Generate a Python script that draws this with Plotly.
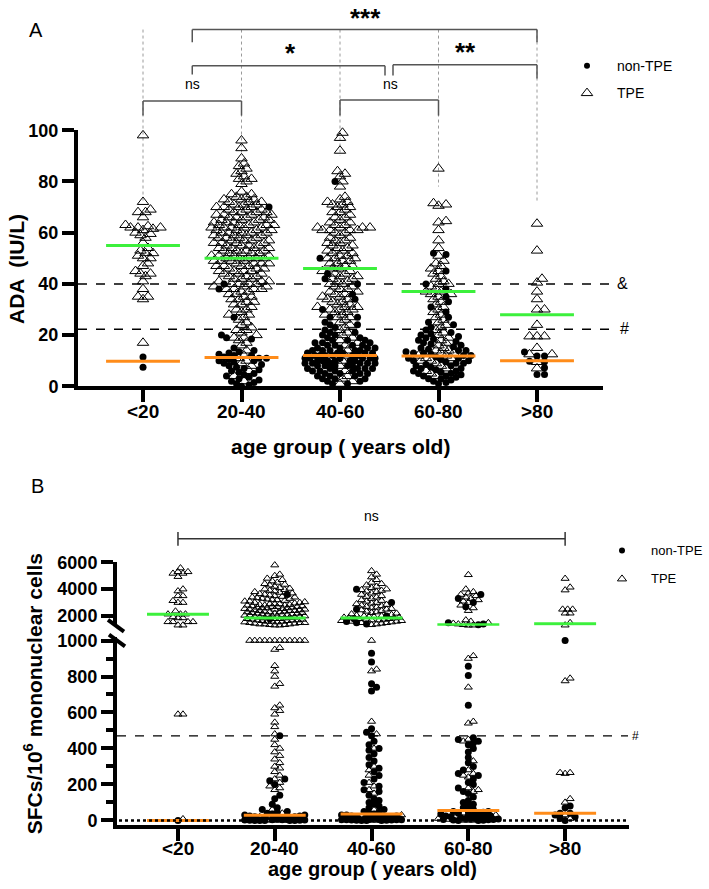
import math
import plotly.graph_objects as go

W, H = 709, 889
FONT = "Liberation Sans, Arial, sans-serif"

categories = ["<20", "20-40", "40-60", "60-80", ">80"]

# ---------------- Panel A : ADA (IU/L) ----------------
ada_tpe_lt20 = [98, 72, 69, 68, 68, 66, 63, 62.5, 62, 62, 62, 61.5, 61, 60, 59.5, 59, 58, 56, 54, 53, 52, 52,
                51, 50, 50, 48, 47, 45, 44, 44, 43, 41, 38, 35, 35, 34, 17]
ada_non_lt20 = [11.5, 7.5]

ada_tpe_20_40 = [96, 93, 89, 87, 86, 85, 84, 83, 82, 81, 81, 80, 79,
                 76, 75, 75, 74, 74, 73, 73, 73, 72, 72, 72, 71, 71, 71, 70, 70, 70, 70,
                 69, 69, 69, 68, 68, 68, 68, 67, 67, 67, 67, 66, 66, 66, 66, 65, 65, 65, 65,
                 64, 64, 64, 64, 63, 63, 63, 63, 63, 62, 62, 62, 62, 62, 61, 61, 61, 61, 60, 60, 60, 60, 60,
                 59, 59, 59, 59, 58, 58, 58, 58, 57, 57, 57, 57, 56, 56, 56, 56, 55, 55, 55, 55,
                 54, 54, 54, 54, 53, 53, 53, 53, 52, 52, 52, 52, 51, 51, 51, 51, 50, 50, 50, 50, 50,
                 49, 49, 49, 49, 48, 48, 48, 48, 47, 47, 47, 47, 46, 46, 46, 45, 45, 45, 45, 44, 44, 44,
                 43, 43, 43, 42, 42, 42, 41, 41, 41, 40, 40, 40, 40,
                 39, 39, 39, 38, 38, 38, 38, 37, 37, 36, 36, 35, 35, 34, 34, 33, 33, 32, 32, 31, 30, 30,
                 29, 28, 28, 27, 26, 25, 24, 23, 22, 22, 21, 20, 19, 19, 18, 17, 16, 14, 12, 11, 10, 9, 8,
                 6, 4, 2]
ada_non_20_40 = [70, 40, 38, 27, 20, 19, 18.5, 15, 14, 13.5, 13, 12.5, 12, 12, 11.5, 11, 11, 10.5, 10, 10,
                 9.5, 9, 8.5, 8, 7.5, 7, 6.5, 6, 5.5, 5, 4.5, 4, 3.5, 3, 2.5, 2, 1.5, 1, 0.5, 0]

ada_tpe_40_60 = [99, 97, 92, 84, 83, 82, 80, 78, 74, 73, 72, 72, 71, 71, 70, 70, 69, 68, 68, 67, 66, 66, 65,
                 64, 64, 63, 63, 62, 62, 62, 62, 61, 61, 61, 61, 60, 60, 59, 58, 58, 57, 57, 56, 56, 55, 55,
                 54, 54, 53, 53, 52, 52, 51, 51, 50, 50, 50, 49, 49, 48, 48, 47, 47, 46, 46, 45, 45, 44, 44,
                 43, 43, 42, 42, 41, 41, 40, 40, 39, 39, 38, 38, 37, 37, 36, 36, 35, 35, 34, 34, 33, 33, 32,
                 32, 31, 31, 31, 30, 30, 30, 29, 29, 28, 28, 27, 27, 26, 25, 24, 23, 22, 21, 20, 19, 18, 17,
                 16, 14, 12, 10, 8, 6, 4, 3, 2, 1]
ada_non_40_60 = [80, 50, 44, 42, 40, 36, 34, 30, 27, 27, 25, 24, 24, 23, 22, 21, 21, 20, 20, 19, 19, 18, 18,
                 18, 17, 17, 17, 16, 16, 16, 16, 15, 15, 15, 15, 14, 14, 14, 14, 14, 13, 13, 13, 13, 13, 12,
                 12, 12, 12, 12, 12, 11, 11, 11, 11, 11, 11, 10, 10, 10, 10, 10, 10, 9, 9, 9, 9, 9, 9, 8, 8,
                 8, 8, 8, 7, 7, 7, 7, 7, 6, 6, 6, 6, 5, 5, 5, 5, 4, 4, 4, 3, 3, 3, 2, 2, 1, 1]

ada_tpe_60_80 = [85, 71.5, 71, 70.5, 64.5, 64, 61, 57, 54, 51, 49, 48, 47, 46, 45, 44, 43, 42, 41, 40, 40, 39,
                 38, 37, 37, 36, 36, 35, 34, 33, 32, 31, 30, 29, 28, 27, 26, 25, 24, 23, 22, 21, 20, 19, 18,
                 17, 16, 15, 14, 14, 13, 13, 12, 12, 11, 11, 10, 10, 9, 8, 7, 6, 5, 4]
ada_non_60_80 = [52, 51.5, 45, 40, 38, 35, 33, 31, 29, 27, 25, 24, 23, 22, 21, 20.5, 20, 19.5, 19, 18.5, 18,
                 17.5, 17, 16.5, 16, 15.5, 15, 14.5, 14, 14, 13.5, 13, 13, 12.5, 12, 12, 11.5, 11, 11, 10.5,
                 10, 10, 9.5, 9, 9, 8.5, 8, 8, 7.5, 7, 7, 6.5, 6, 6, 5.5, 5, 5, 4.5, 4, 4, 3.5, 3, 3, 2.5,
                 2, 1.5, 1]

ada_tpe_gt80 = [63.5, 53, 42, 40.5, 37, 34, 30, 30, 24, 19.5, 19.5, 19.5, 15, 12.5, 12.5, 9.5, 7]
ada_non_gt80 = [13.4, 11.8, 11.8, 9.8, 9.6, 7.3, 4.6, 4.6]

ada_median_tpe = [55, 50, 46, 37, 28]
ada_median_non = [9.8, 11.3, 12, 11.8, 10]
ada_cutoff_amp = 40
ada_cutoff_hash = 22.3
ada_whisker_end = [72, 90, 90, 78, 72]

# ---------------- Panel B : SFCs / 10^6 mononuclear cells ----------------
sfc_tpe_lt20 = [5570, 5290, 5290, 5170, 5170, 4930, 4000, 3860, 3500, 3500, 3140, 3000, 3000, 2360, 2140,
                2140, 2140, 1930, 1860, 1860, 1570, 1570, 1570, 1570, 1320, 1320, 590, 590, 8]
sfc_non_lt20 = [0]

sfc_tpe_20_40 = [5790, 5100, 5000, 4800, 4700, 4600, 4500, 4400, 4350, 4300, 4200, 4100, 4050, 4000, 3950,
                 3900, 3850, 3800, 3750, 3700, 3650, 3600, 3550, 3500, 3450, 3400, 3400, 3350, 3300, 3300,
                 3250, 3200, 3200, 3150, 3100, 3100, 3050, 3000, 3000, 2950, 2900, 2900, 2900, 2850, 2850,
                 2800, 2800, 2800, 2750, 2750, 2700, 2700, 2700, 2650, 2650, 2600, 2600, 2600, 2550, 2550,
                 2500, 2500, 2500, 2450, 2450, 2400, 2400, 2400, 2350, 2350, 2300, 2300, 2300, 2250, 2250,
                 2200, 2200, 2200, 2150, 2150, 2100, 2100, 2100, 2050, 2050, 2000, 2000, 2000, 1950, 1950,
                 1900, 1900, 1900, 1850, 1850, 1800, 1800, 1800, 1750, 1750, 1700, 1700, 1700, 1650, 1650,
                 1600, 1600, 1600, 1550, 1550, 1500, 1500, 1500, 1450, 1450, 1400, 1400, 1400, 1350, 1350,
                 1320, 1320,
                 1000, 1000, 1000, 1000, 1000, 1000, 1000, 1000, 1000, 1000, 1000, 1000, 960, 950, 860, 830,
                 800, 760, 745, 640, 625, 610, 590, 545, 520, 480, 450, 420, 400, 380, 360, 340, 320, 300,
                 290, 270, 250, 230, 210, 190, 180, 170, 60, 40, 20, 15, 10, 5, 3, 0, 0, 0, 0]
sfc_non_20_40 = [3600, 1800, 470, 230, 220, 200, 140, 120, 90, 70, 60, 50, 45, 40, 35, 30, 30, 25, 25, 20, 20,
                 20, 15, 15, 15, 10, 10, 10, 10, 8, 8, 5, 5, 5, 3, 3, 2, 2, 1, 1, 0, 0, 0, 0, 0]

sfc_tpe_40_60 = [5360, 5100, 4900, 4700, 4500, 4400, 4300, 4200, 4100, 4000, 3950, 3900, 3850, 3800, 3700,
                 3600, 3500, 3450, 3400, 3300, 3200, 3150, 3100, 3000, 2950, 2900, 2850, 2800, 2750, 2700,
                 2650, 2600, 2550, 2500, 2450, 2400, 2350, 2300, 2250, 2200, 2150, 2100, 2050, 2000, 2000,
                 1950, 1950, 1900, 1900, 1850, 1850, 1800, 1800, 1750, 1750, 1700, 1700, 1650, 1650, 1600,
                 1600, 1550, 1500, 1500, 1450, 1400, 1350,
                 1000, 840, 830, 550, 480, 400, 300, 280, 250, 210, 190, 170, 150, 60, 30, 20, 10, 5, 0, 0]
sfc_non_40_60 = [4000, 3000, 2500, 2000, 1800, 1600, 1500, 1400,
                 930, 880, 760, 740, 720, 510, 490, 470, 440, 420, 400, 390, 370, 350, 330, 310, 290, 270,
                 250, 230, 210, 190, 170, 160, 140, 120, 110, 100, 90, 80, 70, 60, 50, 45, 40, 35, 30, 30,
                 25, 25, 20, 20, 20, 15, 15, 15, 12, 12, 10, 10, 10, 8, 8, 6, 6, 5, 5, 4, 4, 3, 3, 2, 2, 1,
                 1, 0, 0, 0]

sfc_tpe_60_80 = [5070, 4000, 3800, 3700, 3600, 3500, 3400, 3300, 3200, 3100, 3000, 2800, 2600, 2400, 1700,
                 1600, 1500, 1450, 1400, 1350, 1320, 1310,
                 915, 900, 740, 550, 540, 450, 440, 330, 280, 260, 250, 240, 180, 170, 160, 40, 30, 20, 10,
                 5, 0, 0, 0]
sfc_non_60_80 = [3600, 3300, 3000, 2700, 1500, 1400, 1350,
                 857, 805, 640, 460, 450, 440, 430, 420, 400, 380, 350, 320, 300, 280, 260, 250, 230, 210,
                 200, 180, 160, 150, 130, 110, 100, 90, 80, 70, 60, 55, 50, 50, 45, 40, 40, 35, 30, 30, 25,
                 25, 20, 20, 15, 15, 10, 10, 10, 8, 5, 5, 3, 2, 1, 0, 0]

sfc_tpe_gt80 = [4790, 4140, 3930, 2500, 2500, 2500, 2210, 2210, 1500, 1320, 790, 775, 265, 265, 260, 120,
                100, 30, 10]
sfc_non_gt80 = [1000, 80, 70, 40, 40, 30, 20, 10, 0]

sfc_median_tpe = [2140, 1860, 1860, 1360, 1430]
sfc_median_non = [0, 28, 36, 55, 40]
sfc_cutoff_hash = 470
sfc_split = 1100

ada_tpe = [ada_tpe_lt20, ada_tpe_20_40, ada_tpe_40_60, ada_tpe_60_80, ada_tpe_gt80]
ada_non = [ada_non_lt20, ada_non_20_40, ada_non_40_60, ada_non_60_80, ada_non_gt80]
sfc_tpe = [sfc_tpe_lt20, sfc_tpe_20_40, sfc_tpe_40_60, sfc_tpe_60_80, sfc_tpe_gt80]
sfc_non = [sfc_non_lt20, sfc_non_20_40, sfc_non_40_60, sfc_non_60_80, sfc_non_gt80]

# ---------------- geometry (pixels) ----------------
XA, XA_R = (78, 603), (-0.66, 4.67)
YA, YA_R = (385, 123), (0, 100)
XB, XB_R = (117, 629), (-0.63, 4.66)
YBL, YBL_R = (834, 641), (-27, 1022)
YBU, YBU_R = (630, 565), (1273, 6000)


def lin(v, r, p):
    return p[0] + (v - r[0]) / (r[1] - r[0]) * (p[1] - p[0])


def dom_x(p):
    return [p[0] / W, p[1] / W]


def dom_y(p):
    return [1 - p[0] / H, 1 - p[1] / H]


def PX(px):
    return px / W


def PY(py):
    return 1 - py / H


def swarm(vals_px, r, step, maxw):
    n = len(vals_px)
    order = sorted(range(n), key=lambda i: vals_px[i])
    cands = [0.0]
    k = 1
    while k * step <= maxw:
        cands += [k * step, -k * step]
        k += 1
    placed = []
    offs = [0.0] * n
    for i in order:
        y = vals_px[i]
        near = [(a, b) for a, b in placed if abs(b - y) < r]
        best, bestd = 0.0, -1
        for c in cands:
            d = min((math.hypot(c - a, y - b) for a, b in near), default=1e9)
            if d >= r:
                best = c
                break
            if d > bestd:
                bestd, best = d, c
        offs[i] = best
        placed.append((best, y))
    return offs


def build(groups_t, groups_n, yr, yp, xr, xp, r, step, maxw, keep):
    ppu_y = abs(yp[1] - yp[0]) / (yr[1] - yr[0])
    ppu_x = (xp[1] - xp[0]) / (xr[1] - xr[0])
    out = {"tx": [], "ty": [], "nx": [], "ny": []}
    for gi in range(len(groups_t)):
        t = [v for v in groups_t[gi] if keep(v)]
        nn = [v for v in groups_n[gi] if keep(v)]
        vals = t + nn
        if not vals:
            continue
        offs = swarm([v * ppu_y for v in vals], r, step, maxw)
        for j, v in enumerate(vals):
            xx = gi + offs[j] / ppu_x
            if j < len(t):
                out["tx"].append(xx)
                out["ty"].append(v)
            else:
                out["nx"].append(xx)
                out["ny"].append(v)
    return out


fig = go.Figure()

tri_a = dict(symbol="triangle-up-open", size=10, color="black", line=dict(color="black", width=1))
dot_a = dict(symbol="circle", size=7, color="black", line=dict(width=0))
tri_b = dict(symbol="triangle-up-open", size=7, color="black", line=dict(color="black", width=1))
dot_b = dict(symbol="circle", size=7, color="black", line=dict(width=0))
GREEN = "#3cf03c"
ORANGE = "#ff8c1a"


def median_xy(meds, half, keep):
    xs, ys = [], []
    for i, m in enumerate(meds):
        if keep(m):
            xs += [i - half, i + half, None]
            ys += [m, m, None]
    return xs, ys


# Panel A
A = build(ada_tpe, ada_non, YA_R, YA, XA_R, XA, 5.4, 2.5, 36, lambda v: True)
fig.add_trace(go.Scatter(x=A["tx"], y=A["ty"], mode="markers", marker=tri_a, xaxis="x", yaxis="y",
                         cliponaxis=False, showlegend=False))
fig.add_trace(go.Scatter(x=A["nx"], y=A["ny"], mode="markers", marker=dot_a, xaxis="x", yaxis="y",
                         cliponaxis=False, showlegend=False))
mx, my = median_xy(ada_median_tpe, 0.375, lambda v: True)
fig.add_trace(go.Scatter(x=mx, y=my, mode="lines", line=dict(color=GREEN, width=3), xaxis="x", yaxis="y",
                         showlegend=False))
mx, my = median_xy(ada_median_non, 0.375, lambda v: True)
fig.add_trace(go.Scatter(x=mx, y=my, mode="lines", line=dict(color=ORANGE, width=3), xaxis="x", yaxis="y",
                         showlegend=False))

# Panel B lower / upper
BL = build(sfc_tpe, sfc_non, YBL_R, YBL, XB_R, XB, 4.5, 2.5, 30, lambda v: v < sfc_split)
BU = build(sfc_tpe, sfc_non, YBU_R, YBU, XB_R, XB, 4.5, 2.5, 32, lambda v: v >= sfc_split)
fig.add_trace(go.Scatter(x=BL["tx"], y=BL["ty"], mode="markers", marker=tri_b, xaxis="x2", yaxis="y2",
                         cliponaxis=False, showlegend=False))
fig.add_trace(go.Scatter(x=BL["nx"], y=BL["ny"], mode="markers", marker=dot_b, xaxis="x2", yaxis="y2",
                         cliponaxis=False, showlegend=False))
fig.add_trace(go.Scatter(x=BU["tx"], y=BU["ty"], mode="markers", marker=tri_b, xaxis="x3", yaxis="y3",
                         cliponaxis=False, showlegend=False))
fig.add_trace(go.Scatter(x=BU["nx"], y=BU["ny"], mode="markers", marker=dot_b, xaxis="x3", yaxis="y3",
                         cliponaxis=False, showlegend=False))
for meds, col in ((sfc_median_tpe, GREEN), (sfc_median_non, ORANGE)):
    mx, my = median_xy(meds, 0.32, lambda v: v < sfc_split)
    if mx:
        fig.add_trace(go.Scatter(x=mx, y=my, mode="lines", line=dict(color=col, width=3), xaxis="x2",
                                 yaxis="y2", showlegend=False, cliponaxis=False))
    mx, my = median_xy(meds, 0.32, lambda v: v >= sfc_split)
    if mx:
        fig.add_trace(go.Scatter(x=mx, y=my, mode="lines", line=dict(color=col, width=3), xaxis="x3",
                                 yaxis="y3", showlegend=False, cliponaxis=False))

# Legend markers on a full-page pixel overlay axis
LEG_B = (553, 582)
fig.add_trace(go.Scatter(x=[587, 622], y=[57, LEG_B[0]], mode="markers", xaxis="x4", yaxis="y4",
                         marker=dict(symbol="circle", size=6, color="black"), showlegend=False))
fig.add_trace(go.Scatter(x=[587], y=[85], mode="markers", xaxis="x4", yaxis="y4",
                         marker=dict(symbol="triangle-up-open", size=10, color="black",
                                     line=dict(color="black", width=1)), showlegend=False))
fig.add_trace(go.Scatter(x=[622], y=[LEG_B[1]], mode="markers", xaxis="x4", yaxis="y4",
                         marker=dict(symbol="triangle-up-open", size=8, color="black",
                                     line=dict(color="black", width=1)), showlegend=False))

shapes = []
ann = []


def seg(x0, y0, x1, y1, color="black", width=1.5, dash="solid"):
    shapes.append(dict(type="line", xref="paper", yref="paper", x0=PX(x0), y0=PY(y0), x1=PX(x1), y1=PY(y1),
                       line=dict(color=color, width=width, dash=dash), layer="above"))


def text(x, y, s, size=14, bold=False, xanchor="center", angle=0):
    ann.append(dict(x=PX(x), y=PY(y), xref="paper", yref="paper", text=s, showarrow=False,
                    xanchor=xanchor, yanchor="middle", textangle=angle,
                    font=dict(family=FONT, size=size, color="black", weight="bold" if bold else "normal")))


ax = lambda c: lin(c, XA_R, XA)
ay = lambda v: lin(v, YA_R, YA)
bx = lambda c: lin(c, XB_R, XB)
bly = lambda v: lin(v, YBL_R, YBL)

# Panel A guide lines
for i, v in enumerate(ada_whisker_end):
    shapes.append(dict(type="line", xref="paper", yref="paper", x0=PX(ax(i)), x1=PX(ax(i)), y0=PY(20),
                       y1=PY(ay(v)), line=dict(color="#9a9a9a", width=1, dash="dot"), layer="below"))
seg(XA[0], ay(ada_cutoff_amp), 609, ay(ada_cutoff_amp), width=1.5, dash="dash")
seg(XA[0], ay(ada_cutoff_hash), 611, ay(ada_cutoff_hash), width=1.5, dash="dash")
text(622, ay(ada_cutoff_amp), "&", size=16)
text(624, ay(ada_cutoff_hash) - 1, "#", size=16)

# significance brackets (panel A)
BC = "#555555"
seg(ax(0), 108, ax(0), 93, BC); seg(ax(0), 93, ax(1), 93, BC); seg(ax(1), 93, ax(1), 108, BC)
seg(ax(2), 108, ax(2), 92, BC); seg(ax(2), 92, ax(3), 92, BC); seg(ax(3), 92, ax(3), 108, BC)
text(ax(0.5), 76, "ns", size=14)
text(390, 76, "ns", size=14)
seg(ax(0.5), 66, ax(0.5), 57, BC); seg(ax(0.5), 57, 385, 57, BC); seg(385, 57, 385, 67, BC)
seg(393, 67, 393, 56, BC); seg(393, 56, ax(4), 56, BC); seg(ax(4), 56, ax(4), 70, BC)
seg(ax(0.5), 33, ax(0.5), 20, BC); seg(ax(0.5), 20, ax(4), 20, BC); seg(ax(4), 20, ax(4), 33, BC)
text(290, 44, "*", size=26, bold=True)
text(465, 43, "**", size=26, bold=True)
text(365, 8, "***", size=26, bold=True)

# Panel B guide lines
seg(XB[0], bly(sfc_cutoff_hash), 628, bly(sfc_cutoff_hash), width=1.2, dash="dash")
text(635, bly(sfc_cutoff_hash), "#", size=12)
seg(XB[0] + 2, bly(0), 629, bly(0), width=2.5, dash="dot")
seg(bx(0), 534, bx(0), 548, "#333333", 1.5); seg(bx(0), 541, bx(4), 541, "#333333", 1.5)
seg(bx(4), 534, bx(4), 548, "#333333", 1.5)
text(bx(2), 518, "ns", size=14)
# axis break marks
seg(108, 624, 124, 636, width=4)
seg(109, 639, 125, 651, width=4)

# category tick labels
for i, c in enumerate(categories):
    text(ax(i), 411, c, size=19, bold=True)
    text(bx(i), 858, c, size=19, bold=True)

# texts
text(36, 20, "A", size=20)
text(37, 487, "B", size=20)
text(615, 57, "non-TPE", size=14, xanchor="left")
text(615, 85, "TPE", size=14, xanchor="left")
text(649, LEG_B[0], "non-TPE", size=13, xanchor="left")
text(649, LEG_B[1], "TPE", size=13, xanchor="left")
text(16, 265, "ADA  (IU/L)", size=21, bold=True, angle=-90)
text(33, 700, "SFCs/10<sup>6</sup> mononuclear cells", size=21, bold=True, angle=-90)
text(340, 447, "age group ( years old)", size=21, bold=True)
text(373, 879, "age group ( years old)", size=20, bold=True)

tickf = dict(family=FONT, size=18, color="black", weight="bold")
axis_common = dict(showline=True, linecolor="black", linewidth=4, ticks="outside", tickcolor="black",
                   tickwidth=4, ticklen=12, showgrid=False, zeroline=False)

fig.update_layout(
    width=W, height=H, margin=dict(l=0, r=0, t=0, b=0),
    paper_bgcolor="white", plot_bgcolor="rgba(0,0,0,0)", showlegend=False,
    xaxis=dict(domain=dom_x(XA), range=list(XA_R), anchor="y", tickvals=list(range(5)),
               showticklabels=False, **axis_common),
    yaxis=dict(domain=dom_y(YA), range=list(YA_R), anchor="x", tickvals=[0, 20, 40, 60, 80, 100],
               tickfont=tickf, **axis_common),
    xaxis2=dict(domain=dom_x(XB), range=list(XB_R), anchor="y2", tickvals=list(range(5)),
                showticklabels=False, **axis_common),
    yaxis2=dict(domain=dom_y(YBL), range=list(YBL_R), anchor="x2", tickvals=[0, 200, 400, 600, 800, 1000],
                tickfont=tickf,
                minor=dict(tickvals=[100, 300, 500, 700, 900], ticks="outside", ticklen=7, tickwidth=4,
                           tickcolor="black"),
                **axis_common),
    xaxis3=dict(domain=dom_x(XB), range=list(XB_R), anchor="y3", visible=False, matches="x2"),
    yaxis3=dict(domain=dom_y(YBU), range=list(YBU_R), anchor="x3", tickvals=[2000, 4000, 6000],
                tickfont=tickf, **axis_common),
    xaxis4=dict(domain=[0, 1], range=[0, W], anchor="y4", visible=False),
    yaxis4=dict(domain=[0, 1], range=[H, 0], anchor="x4", visible=False),
    shapes=shapes, annotations=ann,
)

fig.write_html("out.html", config={"displayModeBar": False},
               post_script="document.body.style.margin='0px';document.body.style.padding='0px';")
